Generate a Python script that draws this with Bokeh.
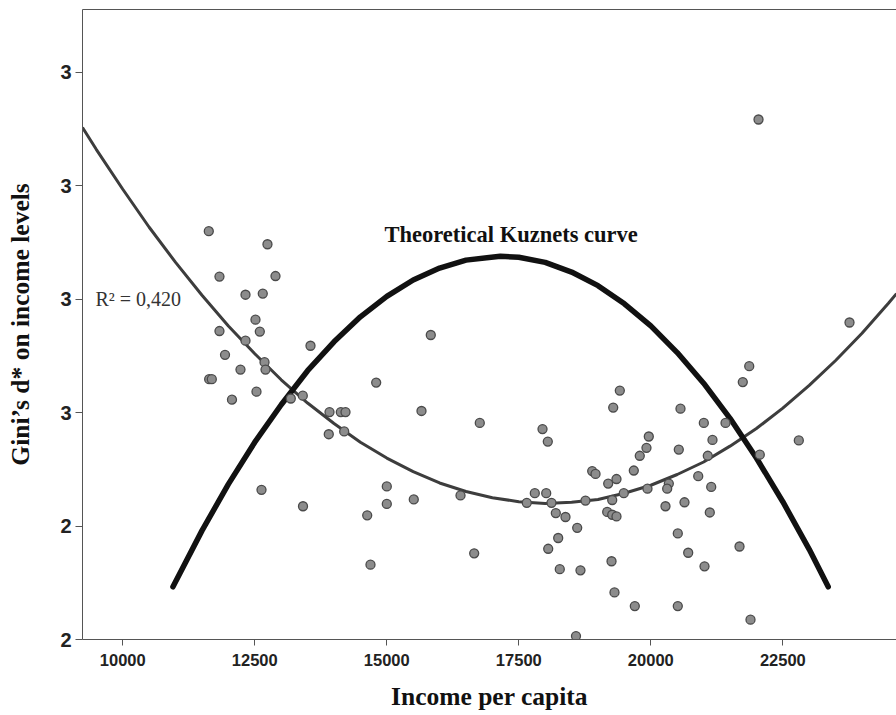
from bokeh.plotting import figure
from bokeh.models import Range1d, FixedTicker, LinearAxis
from bokeh.core.properties import value
from bokeh.embed import file_html
from bokeh.resources import INLINE

# Scatter data: income per capita vs Gini's d*
income = [11629, 12740, 11831, 12892, 12324, 12651, 12513, 11831, 12595, 12324,
          11936, 12684, 12229, 12703, 11636, 11686, 12532, 12068, 13182, 13409,
          13555, 12627, 13413, 13915, 14129, 14218, 15657, 13901, 14193, 14799,
          15833, 15000, 15000, 15511, 14629, 14691, 16761, 16396, 16655, 17949,
          18049, 19413, 19288, 20562, 21004, 21415, 19962, 21168, 19918, 20530,
          19791, 21079, 18890, 18953, 19678, 19350, 19193, 20898, 20341, 20310,
          21144, 19937, 19488, 17803, 18019, 17651, 18119, 18763, 19269, 18201,
          18384, 19174, 19269, 19350, 20278, 20638, 21117, 18606, 20511, 21680,
          18246, 18057, 20708, 19256, 21017, 18276, 18668, 19312, 19697, 20511,
          18583, 21864, 21742, 22803, 22064, 21888, 22040, 23763]
gini = [2.920, 2.897, 2.840, 2.841, 2.808, 2.810, 2.764, 2.744, 2.743, 2.727,
        2.702, 2.689, 2.676, 2.676, 2.659, 2.659, 2.637, 2.623, 2.625, 2.630,
        2.718, 2.464, 2.435, 2.601, 2.601, 2.601, 2.603, 2.562, 2.567, 2.653,
        2.737, 2.470, 2.439, 2.447, 2.419, 2.332, 2.582, 2.454, 2.352, 2.571,
        2.549, 2.639, 2.609, 2.607, 2.582, 2.582, 2.558, 2.552, 2.538, 2.535,
        2.524, 2.524, 2.497, 2.492, 2.498, 2.483, 2.475, 2.488, 2.475, 2.466,
        2.469, 2.466, 2.458, 2.458, 2.458, 2.441, 2.441, 2.445, 2.446, 2.423,
        2.416, 2.425, 2.420, 2.417, 2.435, 2.442, 2.424, 2.397, 2.387, 2.364,
        2.379, 2.360, 2.353, 2.338, 2.329, 2.324, 2.322, 2.283, 2.259, 2.259,
        2.206, 2.682, 2.654, 2.551, 2.526, 2.235, 3.117, 2.759]

# Quadratic regression curve
reg_x = [9237, 9500, 10000, 10500, 11000, 11500, 12000, 12500, 13000, 13500,
         14000, 14500, 15000, 15500, 16000, 16500, 17000, 17500, 18000, 18500,
         19000, 19500, 20000, 20500, 21000, 21500, 22000, 22500, 23000, 23500,
         24000, 24500, 24653]
reg_y = [3.103, 3.064, 2.994, 2.927, 2.865, 2.807, 2.753, 2.704, 2.658, 2.617,
         2.581, 2.548, 2.520, 2.496, 2.476, 2.461, 2.450, 2.443, 2.440, 2.442,
         2.447, 2.458, 2.472, 2.491, 2.513, 2.541, 2.572, 2.608, 2.648, 2.692,
         2.740, 2.793, 2.810]

# Theoretical Kuznets curve
kuz_x = [10950, 11500, 12000, 12500, 13000, 13500, 14000, 14500, 15000, 15500,
         16000, 16500, 17150, 17500, 18000, 18500, 19000, 19500, 20000, 20500,
         21000, 21500, 22000, 22500, 23000, 23360]
kuz_y = [2.293, 2.392, 2.474, 2.548, 2.614, 2.674, 2.725, 2.769, 2.805, 2.834,
         2.855, 2.869, 2.876, 2.874, 2.865, 2.848, 2.824, 2.792, 2.753, 2.706,
         2.652, 2.590, 2.520, 2.443, 2.359, 2.293]

x_ticks = [10000, 12500, 15000, 17500, 20000, 22500]
x_tick_labels = ["10000", "12500", "15000", "17500", "20000", "22500"]
y_ticks = [2.2, 2.4, 2.6, 2.8, 3.0, 3.2]
y_tick_labels = ["2", "2", "3", "3", "3", "3"]

r2_label = "R\u00b2 = 0,420"
kuz_label = "Theoretical Kuznets curve"

p = figure(width=896, height=715, output_backend="svg", toolbar_location=None,
           x_range=Range1d(9237, 24653), y_range=Range1d(2.2, 3.311),
           min_border_left=82, min_border_right=0, min_border_top=9,
           min_border_bottom=76)
p.outline_line_color = None
p.xgrid.grid_line_color = None
p.ygrid.grid_line_color = None
p.background_fill_color = "white"

axis_col = "#555555"
tick_font = "Liberation Sans"
label_font = "Liberation Serif"

xa = p.xaxis[0]
xa.ticker = FixedTicker(ticks=x_ticks)
xa.major_label_overrides = {t: l for t, l in zip(x_ticks, x_tick_labels)}
xa.axis_label = "Income per capita"
xa.axis_label_text_font = label_font
xa.axis_label_text_font_style = "bold"
xa.axis_label_text_font_size = "25.5px"
xa.axis_label_text_color = "#111111"
xa.axis_label_standoff = 13
xa.major_label_text_font = tick_font
xa.major_label_text_font_style = "bold"
xa.major_label_text_font_size = "16.5px"
xa.major_label_text_color = "#222222"
xa.major_label_standoff = 8
xa.major_tick_out = 6
xa.major_tick_in = 0
xa.minor_tick_line_color = None
xa.axis_line_color = axis_col
xa.major_tick_line_color = axis_col

ya = p.yaxis[0]
ya.ticker = FixedTicker(ticks=y_ticks)
ya.major_label_overrides = {t: l for t, l in zip(y_ticks, y_tick_labels)}
ya.axis_label = "Gini\u2019s d* on income levels"
ya.axis_label_text_font = label_font
ya.axis_label_text_font_style = "bold"
ya.axis_label_text_font_size = "25.5px"
ya.axis_label_text_color = "#111111"
ya.axis_label_standoff = 22
ya.major_label_text_font = tick_font
ya.major_label_text_font_style = "bold"
ya.major_label_text_font_size = "20px"
ya.major_label_text_color = "#222222"
ya.major_label_standoff = 4
ya.major_tick_out = 7
ya.major_tick_in = 0
ya.minor_tick_line_color = None
ya.axis_line_color = axis_col
ya.major_tick_line_color = axis_col

top = LinearAxis(major_tick_line_color=None, minor_tick_line_color=None,
                 major_label_text_font_size="0px", axis_line_color=axis_col,
                 major_label_standoff=0, ticker=FixedTicker(ticks=[]))
p.add_layout(top, "above")

p.line(reg_x, reg_y, line_color="#3d3d3d", line_width=3)
p.line(kuz_x, kuz_y, line_color="#111111", line_width=5.5, line_cap="round",
       line_join="round")
p.scatter(income, gini, size=9, fill_color="#8c8c8c", line_color="#4a4a4a",
          line_width=1.3)

p.text(x=[9483], y=[2.801], text=[r2_label], text_font=value(label_font),
       text_font_size="20px", text_color="#333333", text_align="left",
       text_baseline="middle")
p.text(x=[17354], y=[2.914], text=[kuz_label], text_font=value(label_font),
       text_font_size="22.5px", text_font_style="bold", text_color="#111111",
       text_align="center", text_baseline="middle")

open("out.html", "w").write(file_html(p, INLINE))
